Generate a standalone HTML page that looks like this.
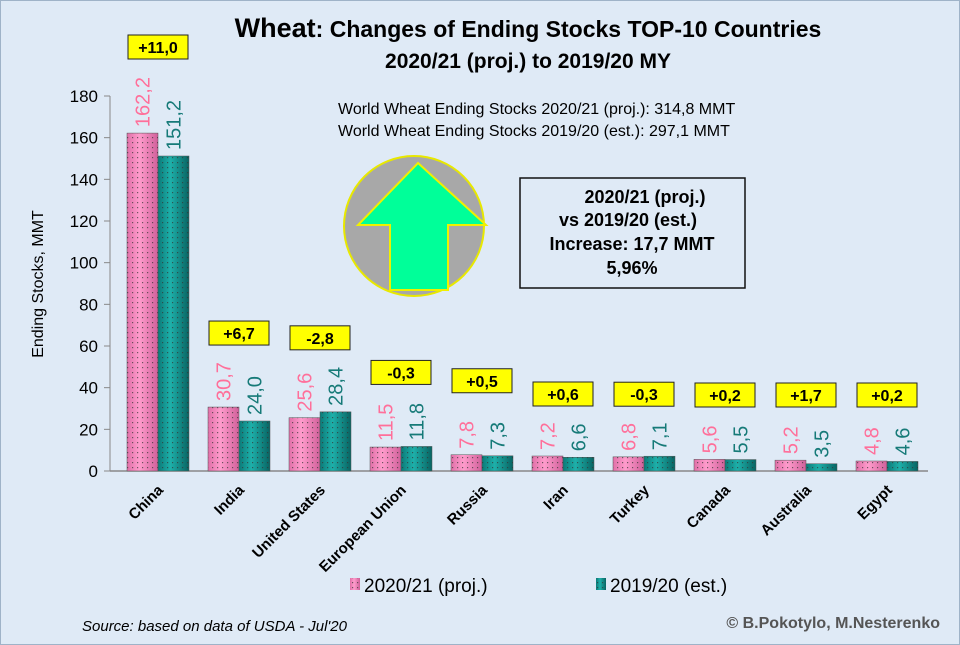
<!DOCTYPE html>
<html><head><meta charset="utf-8"><style>
html,body{margin:0;padding:0;background:#dfeaf6;}
svg{display:block;font-family:"Liberation Sans",sans-serif;}
</style></head><body>
<svg id="c" width="960" height="645" viewBox="0 0 960 645">
<defs>
<pattern id="dots" width="5" height="5" patternUnits="userSpaceOnUse"><rect x="2" y="2" width="1.2" height="1.2" fill="#333" opacity="0.7"/></pattern>
<linearGradient id="gp" x1="0" x2="1"><stop offset="0" stop-color="#e070a8"/><stop offset="0.4" stop-color="#ff9ccc"/><stop offset="1" stop-color="#d0609a"/></linearGradient>
<linearGradient id="gt" x1="0" x2="1"><stop offset="0" stop-color="#0b7a78"/><stop offset="0.4" stop-color="#1eb0aa"/><stop offset="1" stop-color="#086462"/></linearGradient>
</defs>
<rect x="0.5" y="0.5" width="959" height="644" fill="#dfeaf6" stroke="#9fb3c8"/>
<text x="528" y="37" text-anchor="middle" font-size="23" font-weight="bold"><tspan font-size="27">Wheat</tspan>: Changes of Ending Stocks TOP-10 Countries</text>
<text x="528" y="68" text-anchor="middle" font-size="21" font-weight="bold">2020/21 (proj.) to 2019/20 MY</text>
<text x="338" y="114" font-size="16">World Wheat Ending Stocks 2020/21 (proj.): 314,8 MMT</text>
<text x="338" y="136" font-size="16">World Wheat Ending Stocks 2019/20 (est.):  297,1 MMT</text>
<circle cx="414" cy="226" r="70" fill="#a8a8a8" stroke="#e8e800" stroke-width="2"/>
<polygon points="418,163 486,225 448,225 448,290 390,290 390,225 358,225" fill="#00ff99" stroke="#f0f000" stroke-width="2"/>
<rect x="520" y="178" width="225" height="110" fill="none" stroke="#111" stroke-width="1.5"/>
<g font-size="18" font-weight="bold" text-anchor="middle">
<text x="645" y="203">2020/21 (proj.)</text>
<text x="628" y="226">vs 2019/20 (est.)</text>
<text x="632" y="250">Increase:  17,7 MMT</text>
<text x="632" y="274">5,96%</text>
</g>
<text transform="translate(43,284) rotate(-90)" text-anchor="middle" font-size="16">Ending Stocks, MMT</text>
<g id="plot"></g>
<g>
<rect x="350" y="578" width="10" height="12" fill="url(#gp)"/><rect x="350" y="578" width="10" height="12" fill="url(#dots)"/>
<text x="364" y="592" font-size="19">2020/21 (proj.)</text>
<rect x="596" y="578" width="10" height="12" fill="url(#gt)"/><rect x="596" y="578" width="10" height="12" fill="url(#dots)"/>
<text x="610" y="592" font-size="19">2019/20 (est.)</text>
</g>
<text x="82" y="631" font-size="15" font-style="italic">Source: based on data of USDA - Jul'20</text>
<text x="940" y="628" text-anchor="end" font-size="16" font-weight="bold" fill="#555">© B.Pokotylo, M.Nesterenko</text>
</svg>
<script>
const categories=["China","India","United States","European Union","Russia","Iran","Turkey","Canada","Australia","Egypt"];
const proj2021=[162.2,30.7,25.6,11.5,7.8,7.2,6.8,5.6,5.2,4.8];
const est1920=[151.2,24.0,28.4,11.8,7.3,6.6,7.1,5.5,3.5,4.6];
const changeLabels=["+11,0","+6,7","-2,8","-0,3","+0,5","+0,6","-0,3","+0,2","+1,7","+0,2"];
const yTicks=[0,20,40,60,80,100,120,140,160,180];
const ns="http://www.w3.org/2000/svg";
const g=document.getElementById('plot');
const x0=117.5,step=81,y0=471,yTop=96,yMax=180;
const y=v=>y0-(v/yMax)*(y0-yTop);
const xc=i=>x0+step*(i+0.5);
function mk(t,a){const e=document.createElementNS(ns,t);for(const k in a)e.setAttribute(k,a[k]);g.appendChild(e);return e;}
const fmt=v=>v.toFixed(1).replace('.',',');
let ax=mk('line',{x1:110,y1:y0,x2:928,y2:y0,stroke:'#888','stroke-width':1.5});


let ay=mk('line',{x1:110,y1:y0,x2:110,y2:yTop,stroke:'#888','stroke-width':1});


yTicks.forEach(t=>{
 const l=mk('line',{x1:104,y1:y(t),x2:110,y2:y(t),stroke:'#888'});
 
 
 const tx=mk('text',{x:98,y:y(t)+6,'text-anchor':'end','font-size':17});
 tx.textContent=t;
 
 
});
function bar(xl,v,fill,col,name){
 const w=31;
 const r=mk('rect',{x:xl,y:y(v),width:w,height:y0-y(v),fill:fill,stroke:'#555','stroke-width':0.5});
 
 
 const d=mk('rect',{x:xl,y:y(v),width:w,height:y0-y(v),fill:'url(#dots)'});
 
 
 const t=mk('text',{transform:`translate(${xl+w/2+7},${y(v)-6}) rotate(-90)`,'font-size':20,fill:col});
 t.textContent=fmt(v);
 
 
}
categories.forEach((c,i)=>{
 const cx=xc(i);
 bar(cx-31,proj2021[i],'url(#gp)','#ff6f9a','bar-2020-21');
 bar(cx,est1920[i],'url(#gt)','#167a78','bar-2019-20');
 const top=Math.max(proj2021[i],est1920[i]);
 const by=i===0?35:(top<7.5?Math.min(y(top)-74,383):y(top)-86);
 const b=mk('rect',{x:cx-30,y:by,width:60,height:24,fill:'#ffff00',stroke:'#222','stroke-width':1});
 
 
 const bt=mk('text',{x:cx,y:by+18,'text-anchor':'middle','font-size':16,'font-weight':'bold'});
 bt.textContent=changeLabels[i];
 
 
 const cl=mk('text',{transform:`translate(${cx+6},${y0+20}) rotate(-45)`,'text-anchor':'end','font-size':15,'font-weight':'bold'});
 cl.textContent=c;
 
 
});
</script>
</body></html>
